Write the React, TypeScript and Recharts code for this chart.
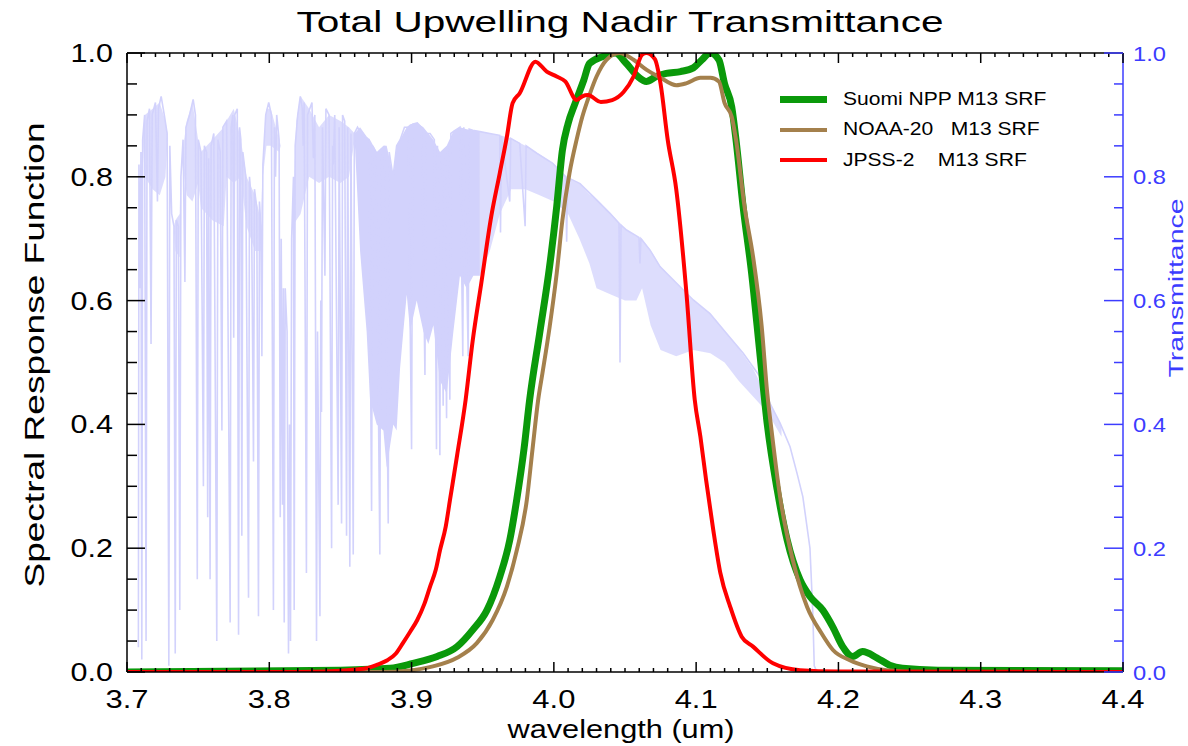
import {
  ComposedChart,
  Line,
  Area,
  XAxis,
  YAxis,
  Label,
  Legend,
} from "recharts"

const FONT = "'Liberation Sans', Arial, sans-serif"
const BLUE = "#3c3cff"
const LAVENDER = "#d2d2fc"

// axis ticks (major); minor ones are filled in between
const waveMajorTicks = [3.7, 3.8, 3.9, 4.0, 4.1, 4.2, 4.3, 4.4]
const yMajorTicks = [0, 0.2, 0.4, 0.6, 0.8, 1.0]

// SRF curves, [wavelength um, response]
const suomiNpp: [number, number][] = [
  [3.7, 0.0], [3.85, 0.003], [3.885, 0.006], [3.901, 0.014], [3.918, 0.025],
  [3.932, 0.041], [3.943, 0.068], [3.953, 0.1], [3.962, 0.154], [3.969, 0.213],
  [3.974, 0.28], [3.979, 0.36], [3.983, 0.44], [3.99, 0.547], [3.997, 0.655],
  [4.002, 0.752], [4.006, 0.843], [4.01, 0.886], [4.015, 0.919], [4.021, 0.956],
  [4.025, 0.983], [4.034, 0.994], [4.043, 1.0], [4.051, 0.983], [4.059, 0.962],
  [4.065, 0.954], [4.072, 0.962], [4.079, 0.967], [4.089, 0.97], [4.098, 0.976],
  [4.104, 0.989], [4.11, 1.0], [4.116, 0.989], [4.12, 0.95], [4.125, 0.913],
  [4.128, 0.86], [4.133, 0.752], [4.139, 0.644], [4.145, 0.51], [4.15, 0.4],
  [4.157, 0.294], [4.164, 0.213], [4.173, 0.149], [4.18, 0.122], [4.189, 0.1],
  [4.196, 0.073], [4.203, 0.041], [4.21, 0.025], [4.217, 0.033], [4.227, 0.023],
  [4.236, 0.011], [4.245, 0.006], [4.27, 0.003], [4.4, 0.002],
]

const noaa20: [number, number][] = [
  [3.7, 0.0], [3.88, 0.0], [3.897, 0.002], [3.915, 0.009], [3.932, 0.023],
  [3.946, 0.047], [3.957, 0.084], [3.967, 0.138], [3.974, 0.197], [3.981, 0.278],
  [3.985, 0.36], [3.989, 0.44], [3.992, 0.483], [3.997, 0.557], [4.002, 0.644],
  [4.006, 0.73], [4.011, 0.806], [4.016, 0.86], [4.02, 0.897], [4.025, 0.932],
  [4.03, 0.962], [4.037, 0.989], [4.046, 1.0], [4.056, 0.989], [4.065, 0.973],
  [4.075, 0.96], [4.086, 0.948], [4.093, 0.951], [4.103, 0.96], [4.11, 0.96],
  [4.116, 0.954], [4.12, 0.919], [4.125, 0.897], [4.128, 0.86], [4.134, 0.752],
  [4.14, 0.671], [4.146, 0.56], [4.15, 0.45], [4.153, 0.39], [4.159, 0.283],
  [4.168, 0.18], [4.178, 0.105], [4.188, 0.063], [4.196, 0.036], [4.208, 0.019],
  [4.22, 0.009], [4.234, 0.003], [4.26, 0.0], [4.4, 0.0],
]

const jpss2: [number, number][] = [
  [3.7, 0.0], [3.8, 0.0], [3.84, 0.001], [3.855, 0.003], [3.868, 0.006],
  [3.876, 0.012], [3.883, 0.019], [3.889, 0.03], [3.894, 0.047], [3.899, 0.065],
  [3.904, 0.084], [3.909, 0.11], [3.913, 0.138], [3.917, 0.165], [3.92, 0.197],
  [3.924, 0.235], [3.927, 0.278], [3.932, 0.35], [3.938, 0.44], [3.943, 0.536],
  [3.949, 0.628], [3.956, 0.736], [3.962, 0.806], [3.967, 0.865], [3.971, 0.919],
  [3.976, 0.935], [3.987, 0.986], [3.995, 0.97], [4.002, 0.962], [4.008, 0.954],
  [4.016, 0.924], [4.02, 0.93], [4.024, 0.932], [4.033, 0.921], [4.041, 0.924],
  [4.049, 0.937], [4.056, 0.962], [4.062, 0.997], [4.065, 1.0], [4.071, 0.99],
  [4.075, 0.95], [4.08, 0.86], [4.086, 0.78], [4.093, 0.617], [4.099, 0.44],
  [4.103, 0.38], [4.107, 0.31], [4.112, 0.23], [4.117, 0.16], [4.124, 0.105],
  [4.132, 0.057], [4.14, 0.041], [4.154, 0.014], [4.173, 0.003], [4.2, 0.001],
  [4.4, 0.0],
]

// upwelling nadir transmittance, [wavelength um, transmittance]
const transmittance: [number, number][] = [
  [3.708, 0.04], [3.7084, 0.82], [3.7092, 0.62], [3.7098, 0.84], [3.7104, 0.02], [3.711, 0.86],
  [3.7124, 0.9], [3.7134, 0.05], [3.7141, 0.89], [3.7158, 0.91], [3.7169, 0.53], [3.7177, 0.9],
  [3.72, 0.92], [3.7214, 0.76], [3.7221, 0.91], [3.724, 0.93], [3.7262, 0.9], [3.7282, 0.87],
  [3.7294, 0.01], [3.7301, 0.85], [3.7314, 0.74], [3.733, 0.72], [3.7339, 0.03], [3.7347, 0.73],
  [3.7361, 0.72], [3.7371, 0.1], [3.7379, 0.8], [3.7394, 0.86], [3.7407, 0.63], [3.7414, 0.88],
  [3.744, 0.9], [3.7465, 0.925], [3.7481, 0.9], [3.7494, 0.15], [3.7501, 0.86], [3.752, 0.84],
  [3.7537, 0.3], [3.7544, 0.85], [3.7559, 0.84], [3.7567, 0.25], [3.7574, 0.83], [3.7584, 0.15],
  [3.7591, 0.85], [3.761, 0.87], [3.7631, 0.05], [3.7639, 0.86], [3.7655, 0.84], [3.7667, 0.39],
  [3.7674, 0.88], [3.77, 0.89], [3.7725, 0.08], [3.7732, 0.88], [3.7744, 0.9], [3.775, 0.54],
  [3.7757, 0.9], [3.7775, 0.91], [3.7784, 0.06], [3.7791, 0.88], [3.78, 0.86], [3.7807, 0.22],
  [3.7814, 0.84], [3.7835, 0.8], [3.7854, 0.12], [3.7861, 0.8], [3.7875, 0.76], [3.7889, 0.34],
  [3.7896, 0.78], [3.7912, 0.75], [3.7924, 0.09], [3.7931, 0.76], [3.7941, 0.72], [3.7948, 0.51],
  [3.7955, 0.82], [3.7975, 0.9], [3.7996, 0.92], [3.8015, 0.9], [3.8029, 0.1], [3.8036, 0.88],
  [3.8044, 0.8], [3.8052, 0.9], [3.8069, 0.86], [3.8077, 0.25], [3.8084, 0.7], [3.8093, 0.27],
  [3.8099, 0.62], [3.8105, 0.08], [3.8112, 0.62], [3.8125, 0.55], [3.8135, 0.03], [3.8142, 0.4],
  [3.8149, 0.05], [3.8157, 0.7], [3.817, 0.8], [3.8175, 0.1], [3.8182, 0.85], [3.82, 0.9],
  [3.8218, 0.93], [3.8232, 0.91], [3.8238, 0.85], [3.8245, 0.92], [3.8261, 0.16], [3.8269, 0.9],
  [3.83, 0.92], [3.831, 0.83], [3.832, 0.9], [3.8332, 0.05], [3.8339, 0.55], [3.8356, 0.09],
  [3.8362, 0.6], [3.8367, 0.42], [3.8374, 0.88], [3.8391, 0.64], [3.8398, 0.91], [3.842, 0.9],
  [3.8438, 0.2], [3.8445, 0.85], [3.845, 0.82], [3.846, 0.9], [3.8484, 0.27], [3.8491, 0.88],
  [3.8508, 0.24], [3.8515, 0.9], [3.853, 0.89], [3.8543, 0.22], [3.8551, 0.88], [3.8566, 0.17],
  [3.8574, 0.87], [3.859, 0.19], [3.8598, 0.87], [3.862, 0.88], [3.8645, 0.87], [3.867, 0.86],
  [3.87, 0.86], [3.8719, 0.26], [3.8727, 0.85], [3.875, 0.84], [3.8777, 0.19], [3.8785, 0.83],
  [3.881, 0.85], [3.8836, 0.24], [3.8843, 0.84], [3.887, 0.8], [3.8895, 0.85], [3.892, 0.86],
  [3.895, 0.88], [3.8975, 0.88], [3.9, 0.36], [3.9008, 0.885], [3.904, 0.887], [3.907, 0.88],
  [3.9094, 0.48], [3.9101, 0.87], [3.913, 0.87], [3.916, 0.86], [3.9175, 0.36], [3.9182, 0.85],
  [3.9199, 0.35], [3.9206, 0.84], [3.9222, 0.43], [3.9229, 0.83], [3.9246, 0.41], [3.9253, 0.85],
  [3.9269, 0.44], [3.9276, 0.87], [3.93, 0.874], [3.934, 0.88], [3.936, 0.51], [3.9367, 0.88],
  [3.9398, 0.51], [3.9405, 0.877], [3.943, 0.875], [3.948, 0.873], [3.955, 0.87], [3.962, 0.867],
  [3.9625, 0.71], [3.9632, 0.866], [3.969, 0.76], [3.9697, 0.862], [3.976, 0.854], [3.9798, 0.72],
  [3.9805, 0.85], [3.988, 0.838], [3.999, 0.822], [4.0083, 0.8], [4.009, 0.695], [4.0097, 0.8],
  [4.0113, 0.797], [4.0184, 0.789], [4.0277, 0.768], [4.0394, 0.741], [4.0458, 0.725], [4.0465, 0.5],
  [4.0472, 0.722], [4.0511, 0.714], [4.0598, 0.702], [4.0605, 0.66], [4.0612, 0.7], [4.0675, 0.682],
  [4.0746, 0.655], [4.0863, 0.628], [4.098, 0.601], [4.1097, 0.579], [4.1214, 0.547], [4.1331, 0.515],
  [4.1449, 0.477], [4.1519, 0.434], [4.159, 0.402], [4.166, 0.364], [4.171, 0.32], [4.175, 0.283],
  [4.18, 0.2], [4.182, 0.095], [4.183, 0.01], [4.185, 0.0], [4.4, 0.0],
]

// clusters of densely packed lines near the top, [wavelength um, low, high]
const transFuzz: [number, number, number][][] = [
  [[3.711, 0.86, 0.86], [3.7125, 0.8, 0.9], [3.718, 0.78, 0.91], [3.723, 0.77, 0.92], [3.727, 0.8, 0.89], [3.7285, 0.86, 0.87]],
  [[3.733, 0.71, 0.72], [3.734, 0.68, 0.73], [3.737, 0.67, 0.74], [3.7376, 0.78, 0.8]],
  [[3.739, 0.82, 0.84], [3.742, 0.77, 0.89], [3.746, 0.76, 0.92], [3.75, 0.79, 0.86], [3.752, 0.75, 0.84],
    [3.76, 0.73, 0.86], [3.768, 0.72, 0.88], [3.77, 0.8, 0.89], [3.775, 0.79, 0.91], [3.78, 0.8, 0.86],
    [3.784, 0.72, 0.8], [3.79, 0.68, 0.77], [3.794, 0.68, 0.73], [3.7955, 0.8, 0.82], [3.798, 0.85, 0.91],
    [3.801, 0.85, 0.91], [3.807, 0.84, 0.86], [3.808, 0.85, 0.85]],
  [[3.8165, 0.72, 0.74], [3.819, 0.73, 0.89], [3.822, 0.74, 0.93], [3.828, 0.8, 0.91], [3.835, 0.79, 0.88],
    [3.842, 0.8, 0.9], [3.85, 0.79, 0.89], [3.856, 0.8, 0.88], [3.86, 0.86, 0.87]],
]

// dense absorption band, [wavelength um, low, high]
const transBand: [number, number, number][] = [
  [3.86, 0.86, 0.87], [3.8638, 0.68, 0.88], [3.8684, 0.55, 0.865], [3.8708, 0.44, 0.86],
  [3.8755, 0.4, 0.84], [3.8802, 0.39, 0.85], [3.8825, 0.33, 0.85], [3.8872, 0.4, 0.8],
  [3.8895, 0.39, 0.85], [3.8919, 0.49, 0.86], [3.8942, 0.55, 0.87], [3.8966, 0.61, 0.88],
  [3.899, 0.55, 0.885], [3.9036, 0.6, 0.887], [3.9083, 0.55, 0.88], [3.9118, 0.53, 0.87],
  [3.9153, 0.56, 0.86], [3.92, 0.47, 0.84], [3.9247, 0.45, 0.85], [3.9294, 0.55, 0.874],
  [3.934, 0.64, 0.88], [3.9387, 0.62, 0.877], [3.9434, 0.64, 0.875], [3.948, 0.64, 0.873],
]

// weaker lines on the slope, [wavelength um, low, high]
const transHaze: [number, number, number][] = [
  [3.948, 0.64, 0.873], [3.955, 0.68, 0.87], [3.962, 0.74, 0.867], [3.97, 0.78, 0.862], [3.98, 0.78, 0.85],
  [3.99, 0.77, 0.836], [4.0, 0.76, 0.821], [4.01, 0.74, 0.798], [4.018, 0.7, 0.789],
  [4.025, 0.66, 0.772], [4.03, 0.62, 0.764], [4.04, 0.61, 0.741], [4.05, 0.6, 0.716],
  [4.058, 0.6, 0.703], [4.062, 0.62, 0.7], [4.068, 0.56, 0.681], [4.075, 0.52, 0.655],
  [4.086, 0.51, 0.628], [4.098, 0.52, 0.601], [4.11, 0.515, 0.579], [4.12, 0.5, 0.551],
  [4.13, 0.47, 0.523], [4.14, 0.445, 0.49], [4.15, 0.42, 0.445], [4.16, 0.38, 0.397],
]

const legendItems = [
  { name: "Suomi NPP M13 SRF", color: "#0a990a", width: 7 },
  { name: "NOAA-20   M13 SRF", color: "#a4804c", width: 4 },
  { name: "JPSS-2    M13 SRF", color: "#ff0000", width: 4 },
]

function withMinor(majors: number[], parts: number) {
  const out: number[] = []
  majors.forEach((m, i) => {
    out.push(m)
    if (i < majors.length - 1) {
      const step = (majors[i + 1] - m) / parts
      for (let k = 1; k < parts; k++) out.push(+(m + k * step).toFixed(4))
    }
  })
  return out
}

const waveTicks = withMinor(waveMajorTicks, 10)
const yTicks = withMinor(yMajorTicks, 4)

const isMajor = (v: number, majors: number[]) =>
  majors.some((m) => Math.abs(m - v) < 1e-6)

const toRows = (pts: [number, number][]) => pts.map(([w, v]) => ({ w, v }))
const toRangeRows = (pts: [number, number, number][]) =>
  pts.map(([w, lo, hi]) => ({ w, range: [lo, hi] as number[] | null }))

// clusters are separated by an empty row so the area breaks between them
const fuzzRows = transFuzz.flatMap((c, i) =>
  i === 0 ? toRangeRows(c) : [{ w: c[0][0] - 0.0002, range: null }, ...toRangeRows(c)]
)

function BottomTick(props: any) {
  const { x, y, payload } = props
  const major = isMajor(payload.value, waveMajorTicks)
  return (
    <g>
      <line x1={x} y1={y} x2={x} y2={y - (major ? 10 : 4)} stroke="#000" strokeWidth={1.5} />
      {major && (
        <text
          transform={`translate(${x},${y + 36}) scale(1.19,1)`}
          textAnchor="middle"
          fontSize={26}
          fontFamily={FONT}
          fill="#000"
        >
          {payload.value.toFixed(1)}
        </text>
      )}
    </g>
  )
}

function TopTick(props: any) {
  const { x, y, payload } = props
  const major = isMajor(payload.value, waveMajorTicks)
  return <line x1={x} y1={y} x2={x} y2={y + (major ? 10 : 4)} stroke="#000" strokeWidth={1.5} />
}

function LeftTick(props: any) {
  const { x, y, payload } = props
  const major = isMajor(payload.value, yMajorTicks)
  return (
    <g>
      <line x1={x} y1={y} x2={x + (major ? 18 : 10)} y2={y} stroke="#000" strokeWidth={1.5} />
      {major && (
        <text
          transform={`translate(${x - 14},${y}) scale(1.22,1)`}
          dy="0.36em"
          textAnchor="end"
          fontSize={25}
          fontFamily={FONT}
          fill="#000"
        >
          {payload.value.toFixed(1)}
        </text>
      )}
    </g>
  )
}

function RightTick(props: any) {
  const { x, y, payload } = props
  const major = isMajor(payload.value, yMajorTicks)
  return (
    <g>
      <line x1={x} y1={y} x2={x - (major ? 19 : 9)} y2={y} stroke={BLUE} strokeWidth={1.5} />
      {major && (
        <text
          transform={`translate(${x + 10},${y}) scale(1.13,1)`}
          dy="0.36em"
          textAnchor="start"
          fontSize={21}
          fontFamily={FONT}
          fill={BLUE}
        >
          {payload.value.toFixed(1)}
        </text>
      )}
    </g>
  )
}

function renderLegend() {
  return (
    <div style={{ fontFamily: FONT, fontSize: 18, color: "#000" }}>
      {legendItems.map((item) => (
        <div key={item.name} style={{ display: "flex", alignItems: "center", height: 30.5 }}>
          <div style={{ width: 47, height: item.width, background: item.color, marginRight: 16 }} />
          <span
            style={{
              display: "inline-block",
              whiteSpace: "pre",
              transform: "scaleX(1.17)",
              transformOrigin: "left center",
            }}
          >
            {item.name}
          </span>
        </div>
      ))}
    </div>
  )
}

export default function App() {
  return (
    <div style={{ position: "absolute", left: 0, top: 0, width: 1188, height: 746, background: "#fff" }}>
      <ComposedChart width={1188} height={746} margin={{ top: 43, right: 0, bottom: 0, left: 0 }}>
        <XAxis
          xAxisId="bottom"
          dataKey="w"
          type="number"
          domain={[3.7, 4.4]}
          allowDataOverflow
          ticks={waveTicks}
          interval={0}
          height={74}
          tickSize={0}
          tickMargin={0}
          tickLine={false}
          axisLine={{ stroke: "#000", strokeWidth: 1.5 }}
          tick={(p: any) => <BottomTick {...p} />}
        >
          <Label
            content={() => (
              <text
                x={621}
                y={738}
                textAnchor="middle"
                fontSize={26}
                fontFamily={FONT}
                fill="#000"
                textLength={227}
                lengthAdjust="spacingAndGlyphs"
              >
                wavelength (um)
              </text>
            )}
          />
        </XAxis>
        <XAxis
          xAxisId="top"
          orientation="top"
          dataKey="w"
          type="number"
          domain={[3.7, 4.4]}
          allowDataOverflow
          ticks={waveTicks}
          interval={0}
          height={10}
          tickSize={0}
          tickMargin={0}
          tickLine={false}
          axisLine={{ stroke: "#000", strokeWidth: 1.5 }}
          tick={(p: any) => <TopTick {...p} />}
        >
          <Label
            content={() => (
              <text
                x={620}
                y={32}
                textAnchor="middle"
                fontSize={30}
                fontFamily={FONT}
                fill="#000"
                textLength={647}
                lengthAdjust="spacingAndGlyphs"
              >
                Total Upwelling Nadir Transmittance
              </text>
            )}
          />
        </XAxis>
        <YAxis
          yAxisId="left"
          orientation="left"
          type="number"
          domain={[0, 1]}
          allowDataOverflow
          ticks={yTicks}
          interval={0}
          width={127}
          tickSize={0}
          tickMargin={0}
          tickLine={false}
          axisLine={{ stroke: "#000", strokeWidth: 1.5 }}
          tick={(p: any) => <LeftTick {...p} />}
        >
          <Label
            content={() => (
              <text
                transform="translate(44,355) rotate(-90)"
                textAnchor="middle"
                fontSize={28}
                fontFamily={FONT}
                fill="#000"
                textLength={465}
                lengthAdjust="spacingAndGlyphs"
              >
                Spectral Response Function
              </text>
            )}
          />
        </YAxis>
        <YAxis
          yAxisId="right"
          orientation="right"
          type="number"
          domain={[0, 1]}
          allowDataOverflow
          ticks={yTicks}
          interval={0}
          width={65}
          tickSize={0}
          tickMargin={0}
          tickLine={false}
          axisLine={{ stroke: BLUE, strokeWidth: 1.5 }}
          tick={(p: any) => <RightTick {...p} />}
        >
          <Label
            content={() => (
              <text
                transform="translate(1183,288) rotate(-90)"
                textAnchor="middle"
                fontSize={21}
                fontFamily={FONT}
                fill={BLUE}
                textLength={179}
                lengthAdjust="spacingAndGlyphs"
              >
                Transmittance
              </text>
            )}
          />
        </YAxis>

        <Legend
          layout="vertical"
          align="center"
          verticalAlign="middle"
          content={renderLegend}
          wrapperStyle={{ left: 780, top: 84, width: 300 }}
        />

        <Area
          xAxisId="bottom"
          yAxisId="right"
          data={fuzzRows}
          dataKey="range"
          type="linear"
          stroke="none"
          fill={LAVENDER}
          fillOpacity={0.75}
          connectNulls={false}
          dot={false}
          activeDot={false}
          isAnimationActive={false}
        />
        <Area
          xAxisId="bottom"
          yAxisId="right"
          data={toRangeRows(transBand)}
          dataKey="range"
          type="linear"
          stroke="none"
          fill={LAVENDER}
          fillOpacity={1}
          dot={false}
          activeDot={false}
          isAnimationActive={false}
        />
        <Area
          xAxisId="bottom"
          yAxisId="right"
          data={toRangeRows(transHaze)}
          dataKey="range"
          type="linear"
          stroke="none"
          fill={LAVENDER}
          fillOpacity={0.75}
          dot={false}
          activeDot={false}
          isAnimationActive={false}
        />
        <Line
          xAxisId="bottom"
          yAxisId="right"
          data={toRows(transmittance)}
          dataKey="v"
          type="linear"
          stroke={LAVENDER}
          strokeWidth={1.6}
          dot={false}
          activeDot={false}
          isAnimationActive={false}
        />
        <Line
          xAxisId="bottom"
          yAxisId="left"
          data={toRows(suomiNpp)}
          dataKey="v"
          type="monotone"
          stroke="#0a990a"
          strokeWidth={7}
          dot={false}
          activeDot={false}
          isAnimationActive={false}
        />
        <Line
          xAxisId="bottom"
          yAxisId="left"
          data={toRows(noaa20)}
          dataKey="v"
          type="monotone"
          stroke="#a4804c"
          strokeWidth={4}
          dot={false}
          activeDot={false}
          isAnimationActive={false}
        />
        <Line
          xAxisId="bottom"
          yAxisId="left"
          data={toRows(jpss2)}
          dataKey="v"
          type="monotone"
          stroke="#ff0000"
          strokeWidth={4}
          dot={false}
          activeDot={false}
          isAnimationActive={false}
        />
      </ComposedChart>
    </div>
  )
}
